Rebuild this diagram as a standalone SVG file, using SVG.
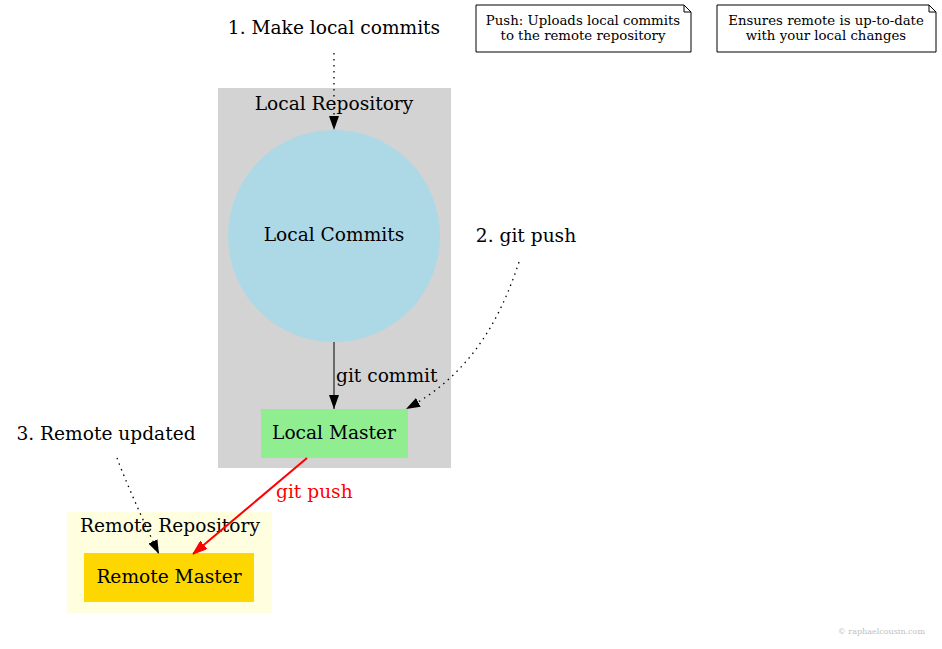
<svg xmlns="http://www.w3.org/2000/svg" width="942" height="649" viewBox="0 0 942 649">
<style>
text{font-family:"DejaVu Serif","Liberation Serif",serif;fill:#000}
.t{font-size:18.6px;text-anchor:middle}
.n{font-size:13.3px;text-anchor:middle}
.dot{fill:none;stroke:#000;stroke-width:1.3;stroke-dasharray:1.5,4.5}
.note{fill:#fff;stroke:#000;stroke-width:1}
</style>
<defs>
<marker id="ab14" markerWidth="14" markerHeight="10" refX="14" refY="5" orient="auto" markerUnits="userSpaceOnUse"><path d="M0,0 L14,5 L0,10 Z" fill="#000"/></marker>
<marker id="ar14" markerWidth="14" markerHeight="10" refX="14" refY="5" orient="auto" markerUnits="userSpaceOnUse"><path d="M0,0 L14,5 L0,10 Z" fill="#f00" stroke="#f00"/></marker>
</defs>
<rect width="942" height="649" fill="#fff"/>
<g id="cluster_local"><rect x="218" y="88" width="233" height="380" fill="#d3d3d3"/><text class="t" x="334" y="110">Local Repository</text></g>
<g id="cluster_remote"><rect x="67" y="512" width="205" height="101" fill="#ffffe0"/><text class="t" x="170" y="532">Remote Repository</text></g>
<g id="local_commits"><circle cx="334" cy="236" r="106" fill="#add8e6"/><text class="t" x="334" y="241">Local Commits</text></g>
<g id="local_master"><rect x="261" y="409" width="147" height="49" fill="#90ee90"/><text class="t" x="334" y="439">Local Master</text></g>
<g id="remote_master"><rect x="84" y="553" width="170" height="49" fill="#ffd700"/><text class="t" x="169" y="583">Remote Master</text></g>
<g id="step1"><text class="t" x="334" y="34">1. Make local commits</text></g>
<g id="step2"><text class="t" x="526" y="242">2. git push</text></g>
<g id="step3"><text class="t" x="106" y="440">3. Remote updated</text></g>
<g id="note1"><path class="note" d="M476,5 H684 L691,12 V52 H476 Z M684,5 V12 H691"/><text class="n" x="583" y="25">Push: Uploads local commits</text><text class="n" x="583" y="40">to the remote repository</text></g>
<g id="note2"><path class="note" d="M717,5 H929 L936,12 V52 H717 Z M929,5 V12 H936"/><text class="n" x="826" y="25">Ensures remote is up-to-date</text><text class="n" x="826" y="40">with your local changes</text></g>
<g id="connectors">
<path class="dot" d="M334,53 V130" marker-end="url(#ab14)"/>
<path d="M334,342 V409" fill="none" stroke="#000" stroke-width="1" marker-end="url(#ab14)"/>
<text x="336" y="382" style="font-size:18.6px">git commit</text>
<path class="dot" d="M519,262 C500,320 470,375 406,409" marker-end="url(#ab14)"/>
<path class="dot" d="M117,458 C125,480 145,525 159,554" marker-end="url(#ab14)"/>
<path d="M307,458 L193,554" fill="none" stroke="#f00" stroke-width="2" marker-end="url(#ar14)"/>
<text x="276" y="498" style="font-size:18.6px;fill:#f00">git push</text>
</g>
<text x="925" y="634" style="font-size:8px;fill:#c0c0c0;text-anchor:end">© raphaelcousin.com</text>
</svg>
